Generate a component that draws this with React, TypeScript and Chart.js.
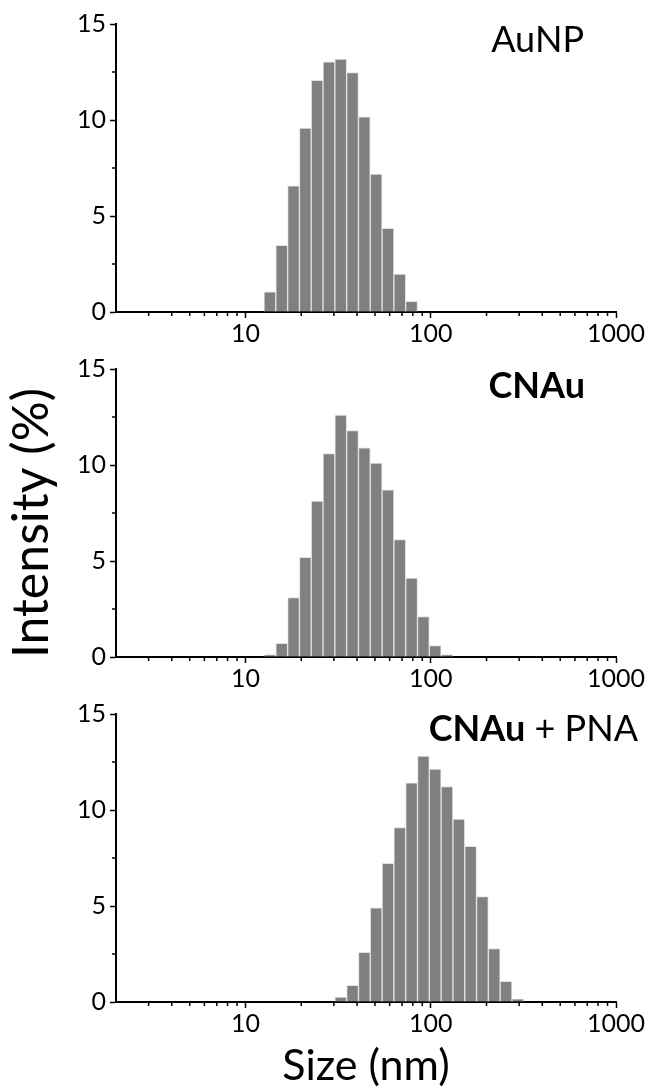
import React, { useEffect, useRef } from 'react';
import { Chart, registerables } from 'chart.js';

Chart.register(...registerables);

// Size classes (nm) and intensity (%) for each sample
const aunpSizes = [13.54, 15.69, 18.17, 21.04, 24.36, 28.21, 32.67, 37.84, 43.82, 50.75, 58.77, 68.06, 78.82];
const aunpIntensity = [1.05, 3.47, 6.57, 9.58, 12.06, 13.03, 13.17, 12.47, 10.16, 7.18, 4.36, 1.97, 0.56];

const cnauSizes = [13.54, 15.69, 18.17, 21.04, 24.36, 28.21, 32.67, 37.84, 43.82, 50.75, 58.77, 68.06, 78.82, 91.28, 105.7, 122.4];
const cnauIntensity = [0.12, 0.71, 3.1, 5.19, 8.12, 10.59, 12.6, 11.79, 10.9, 10.1, 8.71, 6.11, 4.11, 2.11, 0.59, 0.12];

const pnaSizes = [32.67, 37.84, 43.82, 50.75, 58.77, 68.06, 78.82, 91.28, 105.7, 122.4, 141.8, 164.2, 190.1, 220.2, 255.0, 295.3];
const pnaIntensity = [0.26, 0.87, 2.59, 4.9, 7.22, 9.09, 11.42, 12.81, 12.13, 11.22, 9.53, 8.11, 5.49, 2.78, 1.08, 0.17];

// Tick values
const xMajorTicks = [10, 100, 1000];
const xMinorTicks = [3, 4, 5, 6, 7, 8, 9, 20, 30, 40, 50, 60, 70, 80, 90, 200, 300, 400, 500, 600, 700, 800, 900];
const yMinorTicks = [2.5, 7.5, 12.5];

const FONT = 'Lato, "Noto Sans", sans-serif';

const minorTicksPlugin = {
  id: 'minorTicks',
  afterDraw(chart: any) {
    const { ctx, chartArea } = chart;
    const x = chart.scales.x;
    const y = chart.scales.y;
    ctx.save();
    ctx.strokeStyle = '#000';
    ctx.lineWidth = 1.5;
    ctx.beginPath();
    for (const v of xMinorTicks) {
      const px = x.getPixelForValue(v);
      ctx.moveTo(px, chartArea.bottom);
      ctx.lineTo(px, chartArea.bottom + 4);
    }
    for (const v of yMinorTicks) {
      const py = y.getPixelForValue(v);
      ctx.moveTo(chartArea.left - 4, py);
      ctx.lineTo(chartArea.left, py);
    }
    ctx.stroke();
    ctx.restore();
  },
};

const panelLabelPlugin = {
  id: 'panelLabel',
  afterDraw(chart: any, _args: any, opts: any) {
    const ctx = chart.ctx;
    ctx.save();
    ctx.fillStyle = '#000';
    ctx.textBaseline = 'alphabetic';
    ctx.textAlign = 'left';
    const segs = opts.segments || [];
    const fontFor = (s: any) => `${s.bold ? 'bold ' : ''}${opts.size}px ${FONT}`;
    const widths = segs.map((s: any) => {
      ctx.font = fontFor(s);
      return ctx.measureText(s.text).width;
    });
    const total = widths.reduce((a: number, b: number) => a + b, 0);
    let cx = opts.right - total;
    segs.forEach((s: any, i: number) => {
      ctx.font = fontFor(s);
      ctx.fillText(s.text, cx, opts.baseline);
      cx += widths[i];
    });
    if (opts.yTitle) {
      ctx.translate(opts.yTitleX, opts.yTitleY);
      ctx.rotate(-Math.PI / 2);
      ctx.textAlign = 'center';
      ctx.textBaseline = 'middle';
      ctx.font = `${opts.yTitleSize}px ${FONT}`;
      ctx.fillText(opts.yTitle, 0, 0);
    }
    ctx.restore();
  },
};

type PanelProps = {
  sizes: number[];
  values: number[];
  segments: { text: string; bold: boolean }[];
  top: number;
  height: number;
  labelRight: number;
  labelBaseline: number;
  xTitle?: string;
  yTitle?: string;
};

function Panel(p: PanelProps) {
  const ref = useRef<HTMLCanvasElement | null>(null);
  useEffect(() => {
    if (!ref.current) return;
    const tickFont = { family: FONT, size: 25 };
    const xAxisHeight = p.height - 312;
    const chart = new Chart(ref.current, {
      type: 'bar',
      data: {
        datasets: [
          {
            data: p.sizes.map((s, i) => ({ x: s, y: p.values[i] })),
            backgroundColor: '#808080',
            borderColor: '#e2e2e2',
            borderWidth: 1,
            categoryPercentage: 1,
            barPercentage: 1,
          } as any,
        ],
      },
      options: {
        responsive: false,
        animation: false,
        events: [],
        layout: { padding: { left: 0, right: 35, top: 24, bottom: 0 } },
        plugins: {
          legend: { display: false },
          tooltip: { enabled: false },
          panelLabel: {
            segments: p.segments,
            size: 36,
            right: p.labelRight,
            baseline: p.labelBaseline,
            yTitle: p.yTitle,
            yTitleX: 32,
            yTitleY: 178,
            yTitleSize: 50,
          },
        } as any,
        scales: {
          x: {
            type: 'logarithmic',
            min: 2,
            max: 1000,
            offset: false,
            afterBuildTicks: (axis: any) => {
              axis.ticks = xMajorTicks.map((v) => ({ value: v }));
            },
            afterFit: (axis: any) => {
              axis.height = xAxisHeight;
            },
            grid: {
              display: true,
              drawOnChartArea: false,
              drawTicks: true,
              tickLength: 6,
              tickColor: '#000',
              tickWidth: 1.5,
              offset: false,
            },
            border: { display: true, color: '#000', width: 2 },
            ticks: {
              color: '#000',
              font: tickFont,
              padding: 1,
              maxRotation: 0,
              autoSkip: false,
              callback: (v: any) => String(v),
            },
            title: p.xTitle
              ? {
                  display: true,
                  text: p.xTitle,
                  color: '#000',
                  font: { family: FONT, size: 43, lineHeight: 1.1 },
                  padding: { top: 0, bottom: 0 },
                }
              : { display: false },
          } as any,
          y: {
            type: 'linear',
            min: 0,
            max: 15,
            afterFit: (axis: any) => {
              axis.width = 116;
            },
            grid: {
              display: true,
              drawOnChartArea: false,
              drawTicks: true,
              tickLength: 6,
              tickColor: '#000',
              tickWidth: 1.5,
            },
            border: { display: true, color: '#000', width: 2 },
            ticks: { stepSize: 5, color: '#000', font: tickFont, padding: 4 },
          } as any,
        },
      },
      plugins: [minorTicksPlugin, panelLabelPlugin],
    });
    return () => chart.destroy();
  }, []);
  return (
    <canvas
      ref={ref}
      width={651}
      height={p.height}
      style={{ position: 'absolute', left: 0, top: p.top, display: 'block' }}
    />
  );
}

export default function App() {
  return (
    <div style={{ position: 'absolute', left: 0, top: 0, width: 651, height: 1090, background: '#fff', overflow: 'hidden' }}>
      <Panel
        sizes={aunpSizes}
        values={aunpIntensity}
        segments={[{ text: 'AuNP', bold: false }]}
        top={0}
        height={345}
        labelRight={584}
        labelBaseline={52}
      />
      <Panel
        sizes={cnauSizes}
        values={cnauIntensity}
        segments={[{ text: 'CNAu', bold: true }]}
        top={345}
        height={345}
        labelRight={585}
        labelBaseline={53}
        yTitle="Intensity (%)"
      />
      <Panel
        sizes={pnaSizes}
        values={pnaIntensity}
        segments={[
          { text: 'CNAu', bold: true },
          { text: ' + PNA', bold: false },
        ]}
        top={690}
        height={400}
        labelRight={638}
        labelBaseline={51}
        xTitle="Size (nm)"
      />
    </div>
  );
}
